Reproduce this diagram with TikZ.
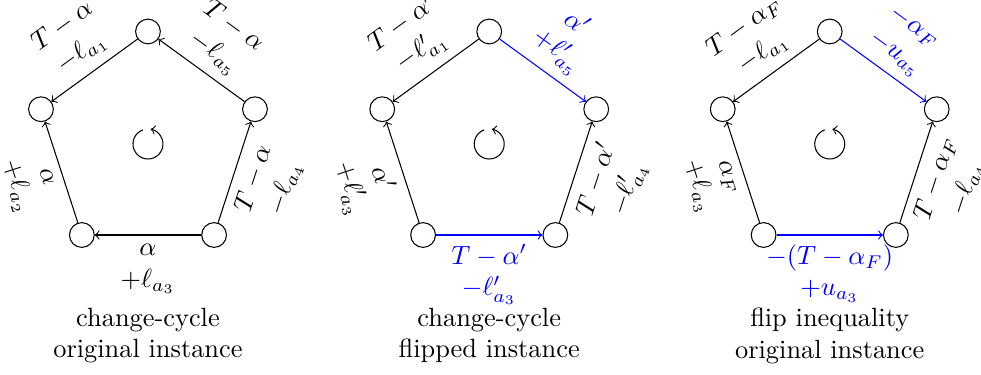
\documentclass[tikz,border=0pt]{standalone}
\usepackage{amsmath,amssymb}
\usepackage{tikz}

\begin{document}
\begin{tikzpicture}[
	vertex/.style={draw, circle, minimum size=0.33cm, inner sep=0pt},
	lab/.style={sloped, align=center, midway},
	flip/.style={blue}]
	\useasboundingbox (-1.973,-3.067) rectangle (11.107,1.92);
	\foreach \k/\x/\capA/\capB in {1/0/change-cycle/original instance, 2/4.55/change-cycle/flipped instance, 3/9.09/flip inequality/original instance} {
		\coordinate (c\k) at (\x,0);
		\foreach \v/\a in {t/90, l/162, bl/234, br/306, r/18}
			\node[vertex] (p\k\v) at ([shift={(\a:1.5)}]c\k) {};
		\draw[->] ([shift={(110:0.2)}]c\k) arc (110:440:0.2);
		\node[align=center, anchor=north] (cap\k) at ([yshift=-2.06cm]c\k) {\capA\\\capB};
	}
	% original instance
	\draw[->] (p1t) -- node[lab, above] {$T-\alpha$\\$-\ell_{a_1}$} (p1l);
	\draw[->] (p1r) -- node[lab, above] {$T-\alpha$\\$-\ell_{a_5}$} (p1t);
	\draw[->] (p1br) -- node[lab, below] {$T-\alpha$\\$-\ell_{a_4}$} (p1r);
	\draw[->] (p1br) -- node[lab, below] {$\alpha$\\$+\ell_{a_3}$} (p1bl);
	\draw[->] (p1bl) -- node[lab, below] {$\alpha$\\$+\ell_{a_2}$} (p1l);
	% flipped instance
	\draw[->] (p2t) -- node[lab, above] {$T-\alpha'$\\$-\ell'_{a_1}$} (p2l);
	\draw[->, flip] (p2t) -- node[lab, above] {$\alpha'$\\$+\ell'_{a_5}$} (p2r);
	\draw[->] (p2br) -- node[lab, below] {$T-\alpha'$\\$-\ell'_{a_4}$} (p2r);
	\draw[->, flip] (p2bl) -- node[lab, below] {$T-\alpha'$\\$-\ell'_{a_3}$} (p2br);
	\draw[->] (p2bl) -- node[lab, below] {$\alpha'$\\$+\ell'_{a_3}$} (p2l);
	% flip inequality
	\draw[->] (p3t) -- node[lab, above] {$T-\alpha_F$\\$-\ell_{a_1}$} (p3l);
	\draw[->, flip] (p3t) -- node[lab, above] {$-\alpha_F$\\$-u_{a_5}$} (p3r);
	\draw[->] (p3br) -- node[lab, below] {$T-\alpha_F$\\$-\ell_{a_4}$} (p3r);
	\draw[->, flip] (p3bl) -- node[lab, below] {$-(T-\alpha_F)$\\$+u_{a_3}$} (p3br);
	\draw[->] (p3bl) -- node[lab, below] {$\alpha_F$\\$+\ell_{a_3}$} (p3l);
\end{tikzpicture}
\end{document}
